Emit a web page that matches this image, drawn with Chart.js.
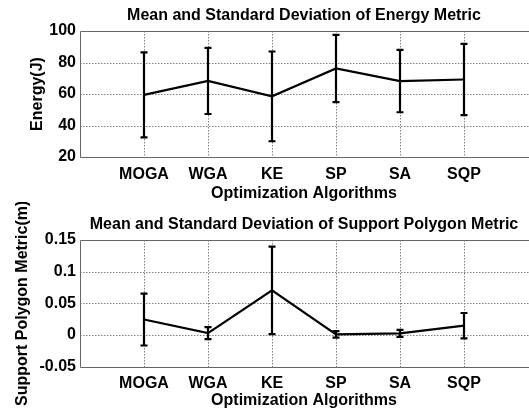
<!DOCTYPE html>
<html>
<head>
<meta charset="utf-8">
<script src="https://cdn.jsdelivr.net/npm/chart.js@4.4.1/dist/chart.umd.min.js"></script>
<style>
  html, body { margin: 0; padding: 0; background: #fff; overflow: hidden; }
  canvas { position: absolute; left: 0; display: block; }
</style>
</head>
<body>
<canvas id="c1" width="529" height="202" style="top:0; width:529px; height:202px;"></canvas>
<canvas id="c2" width="529" height="212" style="top:202px; width:529px; height:212px;"></canvas>
<script>
// ---- data ----
const algorithms = ['MOGA', 'WGA', 'KE', 'SP', 'SA', 'SQP'];
const energyMean = [59.4, 68.3, 58.5, 76.2, 68.2, 69.2];
const energyStd  = [27.0, 21.0, 28.5, 21.3, 19.8, 22.6];
const energyTicks = [20, 40, 60, 80, 100];
const supportMean = [0.0245, 0.003, 0.0705, 0.001, 0.0025, 0.0148];
const supportStd  = [0.041, 0.0095, 0.069, 0.005, 0.0055, 0.0200];
const supportTicks = [-0.05, 0, 0.05, 0.1, 0.15];
const supportTickLabels = ['-0.05', '0', '0.05', '0.1', '0.15'];

const FONT = { family: "'Liberation Sans', Arial, Helvetica, sans-serif", size: 16, weight: 'bold' };
const XTITLE_FONT = { family: "'Liberation Sans', Arial, Helvetica, sans-serif", size: 16, weight: 'bold', lineHeight: 1.1 };
const labels = [''].concat(algorithms, ['']);
const GRID = '#808080';
const AXIS = '#666';

// dotted grid lines + box edges, positioned from the chart's own scales
const frame = {
  id: 'frame',
  beforeDatasetsDraw(chart) {
    const { ctx, chartArea: a, scales: { x, y } } = chart;
    ctx.save();
    ctx.lineWidth = 1;
    ctx.strokeStyle = GRID;
    ctx.setLineDash([1.5, 1.5]);
    ctx.beginPath();
    x.ticks.forEach((t, i) => {
      if (i === 0 || i === x.ticks.length - 1) return;
      const px = Math.round(x.getPixelForTick(i)) + 0.5;
      ctx.moveTo(px, Math.round(a.top)); ctx.lineTo(px, Math.round(a.bottom));
    });
    y.ticks.forEach((t, i) => {
      if (i === 0 || i === y.ticks.length - 1) return;
      const py = Math.round(y.getPixelForValue(t.value)) + 0.5;
      ctx.moveTo(Math.round(a.left), py); ctx.lineTo(a.right + 2, py);
    });
    ctx.stroke();
    ctx.setLineDash([]);
    ctx.strokeStyle = AXIS;
    ctx.beginPath();
    const t = Math.round(a.top) + 0.5, b = Math.round(a.bottom) + 0.5, l = Math.round(a.left) + 0.5;
    ctx.moveTo(l, t); ctx.lineTo(a.right + 2, t);
    ctx.moveTo(l, b); ctx.lineTo(a.right + 2, b);
    ctx.moveTo(l, t); ctx.lineTo(l, b);
    ctx.stroke();
    ctx.restore();
  }
};

const errorBars = {
  id: 'errorBars',
  afterDatasetsDraw(chart, args, opts) {
    const { ctx, scales: { x, y } } = chart;
    ctx.save();
    ctx.strokeStyle = '#000';
    ctx.lineWidth = 2.2;
    ctx.lineCap = 'butt';
    opts.mean.forEach((m, i) => {
      const px = x.getPixelForValue(i + 1);
      const top = y.getPixelForValue(m + opts.std[i]);
      const bot = y.getPixelForValue(m - opts.std[i]);
      ctx.beginPath();
      ctx.moveTo(px, top); ctx.lineTo(px, bot);
      ctx.moveTo(px - 3.5, top); ctx.lineTo(px + 3.5, top);
      ctx.moveTo(px - 3.5, bot); ctx.lineTo(px + 3.5, bot);
      ctx.stroke();
    });
    ctx.restore();
  }
};

function makeChart(id, cfg) {
  return new Chart(document.getElementById(id), {
    type: 'line',
    data: {
      labels: labels,
      datasets: [{
        data: [null].concat(cfg.mean, [null]),
        borderColor: '#000',
        borderWidth: 2.2,
        pointRadius: 0,
        tension: 0
      }]
    },
    plugins: [frame, errorBars],
    options: {
      responsive: false,
      animation: false,
      layout: { padding: { left: 0, right: 1, top: 0, bottom: 0 } },
      plugins: {
        legend: { display: false },
        tooltip: { enabled: false },
        title: {
          display: true,
          fullSize: false,
          text: cfg.title,
          color: '#000',
          font: FONT,
          padding: { top: cfg.titleTop, bottom: cfg.titleBottom }
        },
        errorBars: { mean: cfg.mean, std: cfg.std }
      },
      scales: {
        x: {
          type: 'category',
          offset: false,
          grid: { display: false, drawTicks: false },
          border: { display: false },
          ticks: { color: '#000', font: FONT, padding: cfg.xTickPad, autoSkip: false, maxRotation: 0 },
          title: { display: true, text: 'Optimization Algorithms', color: '#000', font: XTITLE_FONT, padding: { top: 0, bottom: cfg.xTitleBottom } },
          afterFit(s) { s.height = cfg.xHeight; s.paddingLeft = 0; s.paddingRight = 0; }
        },
        y: {
          type: 'linear',
          min: cfg.ticks[0],
          max: cfg.ticks[cfg.ticks.length - 1],
          afterBuildTicks(s) { s.ticks = cfg.ticks.map(v => ({ value: v })); },
          grid: { display: false, drawTicks: false },
          border: { display: false },
          ticks: {
            color: '#000', font: FONT, padding: 4,
            callback: (v, i) => cfg.tickLabels[i]
          },
          title: { display: true, text: cfg.yTitle, color: '#000', font: FONT, padding: { top: cfg.yTitlePad, bottom: 0 } },
          afterFit(s) { s.width = 80; }
        }
      }
    }
  });
}

makeChart('c1', {
  title: 'Mean and Standard Deviation of Energy Metric',
  mean: energyMean, std: energyStd,
  ticks: energyTicks, tickLabels: energyTicks.map(String),
  yTitle: 'Energy(J)',
  titleTop: 6.4, titleBottom: 5.4,
  xHeight: 45, xTickPad: 8, xTitleBottom: 0, yTitlePad: 28
});
makeChart('c2', {
  title: 'Mean and Standard Deviation of Support Polygon Metric',
  mean: supportMean, std: supportStd,
  ticks: supportTicks, tickLabels: supportTickLabels,
  yTitle: 'Support Polygon Metric(m)',
  titleTop: 13.4, titleBottom: 5.4,
  xHeight: 47.3, xTickPad: 7, xTitleBottom: 5, yTitlePad: 13
});
</script>
</body>
</html>
